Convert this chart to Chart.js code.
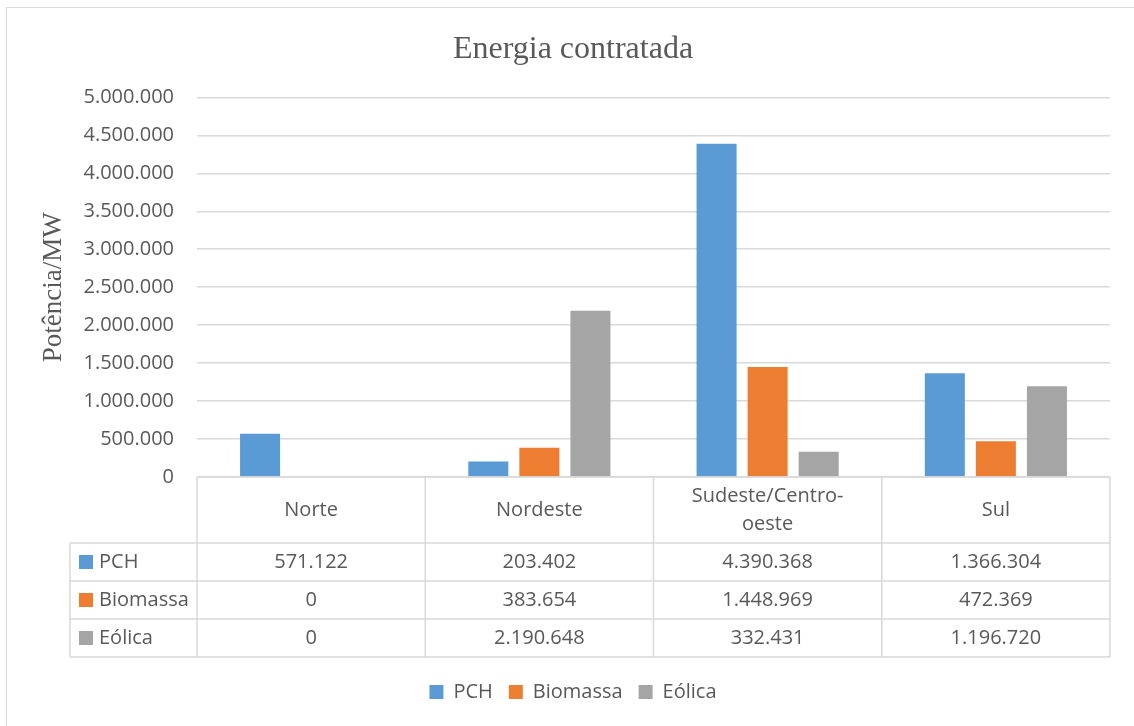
<!DOCTYPE html>
<html>
<head>
<meta charset="utf-8">
<script src="https://cdn.jsdelivr.net/npm/chart.js@4.4.0/dist/chart.umd.min.js"></script>
<style>
  html, body { margin: 0; padding: 0; background: #fff; overflow: hidden; }
  #wrap { width: 1134px; height: 726px; }
</style>
</head>
<body>
<div id="wrap"><canvas id="chart" width="1134" height="726"></canvas></div>
<script>
const categories = ['Norte', 'Nordeste', ['Sudeste/Centro-', 'oeste'], 'Sul'];
const seriesNames = ['PCH', 'Biomassa', 'Eólica'];
const pchValues = [571122, 203402, 4390368, 1366304];
const biomassaValues = [0, 383654, 1448969, 472369];
const eolicaValues = [0, 2190648, 332431, 1196720];
const seriesColors = ['#5B9BD5', '#ED7D31', '#A5A5A5'];

const textColor = '#595959';
const lineColor = '#d9d9d9';

function fmt(n) {
    return String(Math.round(n)).replace(/\B(?=(\d{3})+(?!\d))/g, '.');
}

// data table under the plot, drawn from the x scale columns
const dataTable = {
    id: 'dataTable',
    beforeDraw(chart) {
        const ctx = chart.ctx;
        ctx.save();
        ctx.strokeStyle = lineColor;
        ctx.lineWidth = 1;
        ctx.strokeRect(6.5, 7.5, 1400, 1000);
        ctx.restore();
    },
    afterDraw(chart) {
        const ctx = chart.ctx;
        const xs = chart.scales.x;
        const area = chart.chartArea;
        const n = chart.data.labels.length;
        const colW = (xs.right - xs.left) / n;
        const headTop = area.bottom;
        const headH = 66, rowH = 38;
        const labelLeft = 70;
        const rowsTop = headTop + headH;
        const bottom = rowsTop + rowH * chart.data.datasets.length;

        ctx.save();
        ctx.strokeStyle = lineColor;
        ctx.lineWidth = 1.5;
        ctx.beginPath();
        ctx.moveTo(xs.left, headTop);
        ctx.lineTo(xs.right, headTop);
        for (let k = 0; k <= chart.data.datasets.length; k++) {
            const y = rowsTop + k * rowH;
            ctx.moveTo(labelLeft, y);
            ctx.lineTo(xs.right, y);
        }
        ctx.moveTo(labelLeft, rowsTop);
        ctx.lineTo(labelLeft, bottom);
        for (let i = 0; i <= n; i++) {
            const x = xs.left + i * colW;
            ctx.moveTo(x, headTop);
            ctx.lineTo(x, bottom);
        }
        ctx.stroke();

        ctx.fillStyle = textColor;
        ctx.font = '20px "Open Sans"';
        ctx.textAlign = 'center';
        ctx.textBaseline = 'middle';
        chart.data.labels.forEach((lab, i) => {
            const cx = xs.getPixelForValue(i);
            const lines = Array.isArray(lab) ? lab : [lab];
            const lh = 28;
            const y0 = headTop + headH / 2 - (lines.length - 1) * lh / 2;
            lines.forEach((t, j) => ctx.fillText(t, cx, y0 + j * lh));
        });

        chart.data.datasets.forEach((ds, k) => {
            const cy = rowsTop + k * rowH + rowH / 2;
            ctx.textAlign = 'left';
            ctx.fillStyle = ds.backgroundColor;
            ctx.fillRect(labelLeft + 9, cy - 7, 14, 14);
            ctx.fillStyle = textColor;
            ctx.fillText(ds.label, labelLeft + 29, cy);
            ctx.textAlign = 'center';
            ds.data.forEach((v, i) => {
                ctx.fillText(fmt(v), xs.getPixelForValue(i), cy);
            });
        });
        ctx.restore();
    }
};

Chart.defaults.font.family = '"Open Sans", sans-serif';
Chart.defaults.font.size = 20;
Chart.defaults.color = textColor;

const ctx = document.getElementById('chart').getContext('2d');
const chart = new Chart(ctx, {
    type: 'bar',
    data: {
        labels: categories,
        datasets: [
            { label: seriesNames[0], data: pchValues, backgroundColor: seriesColors[0] },
            { label: seriesNames[1], data: biomassaValues, backgroundColor: seriesColors[1] },
            { label: seriesNames[2], data: eolicaValues, backgroundColor: seriesColors[2] }
        ]
    },
    options: {
        responsive: false,
        animation: false,
        devicePixelRatio: 1,
        layout: { padding: { left: 36, right: 24, top: 0, bottom: 14 } },
        datasets: {
            bar: { categoryPercentage: 0.671, barPercentage: 0.784, borderWidth: 0 }
        },
        plugins: {
            title: {
                display: true,
                text: 'Energia contratada',
                color: textColor,
                font: { family: '"Liberation Serif", serif', size: 32, weight: 'normal' },
                padding: { top: 30, bottom: 29 }
            },
            legend: {
                position: 'bottom',
                labels: { boxWidth: 14, boxHeight: 14, padding: 16, color: textColor, font: { size: 20 } }
            },
            tooltip: { enabled: false }
        },
        scales: {
            x: {
                ticks: { display: false },
                grid: { display: false },
                border: { display: false },
                afterFit(s) { s.height = 189; }
            },
            y: {
                min: 0,
                max: 5000000,
                ticks: { stepSize: 500000, padding: 23, color: textColor, callback: v => fmt(v) },
                grid: { color: lineColor, lineWidth: 1.5, drawTicks: false },
                border: { display: false },
                title: {
                    display: true,
                    text: 'Potência/MW',
                    color: textColor,
                    font: { family: '"Liberation Serif", serif', size: 27, weight: 'normal' },
                    padding: { top: 2, bottom: 0 }
                },
                afterFit(s) { s.width = 161; }
            }
        }
    },
    plugins: [dataTable]
});
</script>
</body>
</html>
